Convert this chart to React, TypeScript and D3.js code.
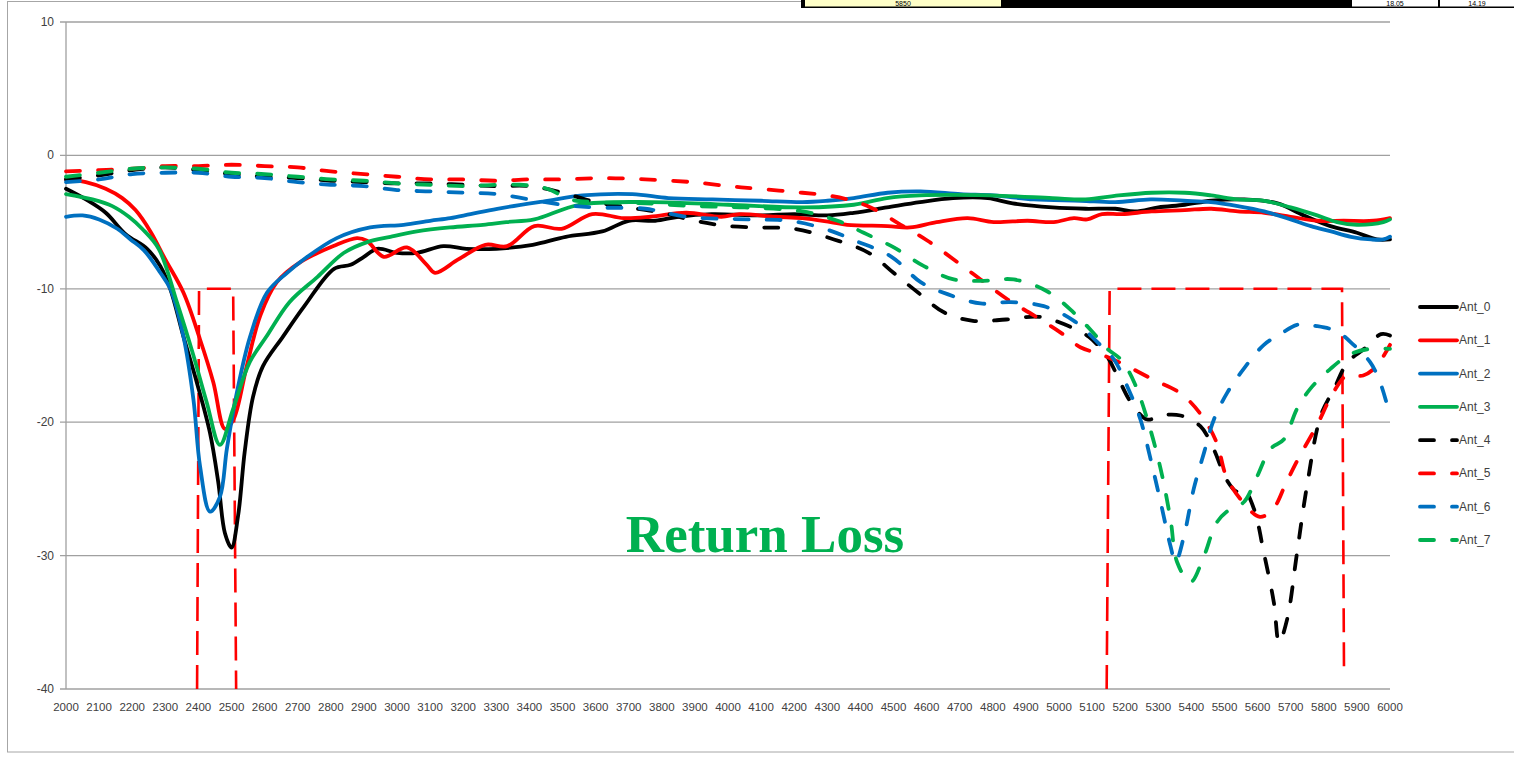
import React from 'react';
import * as d3 from 'd3';

// frequency (MHz) / return loss (dB) pairs
const ant0 = [[2000,-2.5],[2060,-3.3],[2120,-4.3],[2180,-5.9],[2245,-7.0],[2285,-8.3],[2315,-10.0],[2355,-13.6],[2395,-17.0],[2435,-20.8],[2460,-24.5],[2480,-28.3],[2500,-29.4],[2520,-27.0],[2540,-22.2],[2565,-18.1],[2595,-15.8],[2655,-13.6],[2720,-11.3],[2810,-8.5],[2860,-8.2],[2900,-7.6],[2940,-7.0],[3000,-7.3],[3060,-7.3],[3140,-6.8],[3210,-7.0],[3300,-7.0],[3410,-6.7],[3510,-6.1],[3620,-5.7],[3700,-4.9],[3780,-4.9],[3850,-4.6],[3950,-4.4],[4100,-4.5],[4200,-4.4],[4300,-4.5],[4380,-4.3],[4480,-3.9],[4580,-3.5],[4680,-3.2],[4785,-3.2],[4860,-3.6],[4980,-3.9],[5080,-4.0],[5170,-4.0],[5230,-4.2],[5300,-3.9],[5380,-3.7],[5460,-3.4],[5560,-3.3],[5660,-3.6],[5740,-4.5],[5820,-5.3],[5900,-5.8],[5960,-6.3],[6000,-6.3]];
const ant1 = [[2000,-1.8],[2060,-2.0],[2120,-2.5],[2170,-3.2],[2210,-4.1],[2255,-5.7],[2300,-7.8],[2355,-10.3],[2405,-13.8],[2445,-17.0],[2480,-20.5],[2506,-19.8],[2546,-15.8],[2587,-12.0],[2637,-9.5],[2708,-8.0],[2808,-6.8],[2879,-6.2],[2909,-6.4],[2960,-7.6],[3030,-6.9],[3090,-8.2],[3115,-8.8],[3185,-7.8],[3267,-6.7],[3333,-6.8],[3415,-5.3],[3497,-5.5],[3590,-4.4],[3685,-4.7],[3766,-4.6],[3874,-4.3],[3980,-4.6],[4035,-4.4],[4143,-4.6],[4225,-4.7],[4310,-5.0],[4360,-5.2],[4482,-5.3],[4550,-5.4],[4630,-5.0],[4724,-4.7],[4803,-5.0],[4905,-4.9],[4984,-5.0],[5045,-4.7],[5085,-4.8],[5130,-4.4],[5190,-4.4],[5280,-4.2],[5380,-4.1],[5460,-4.0],[5540,-4.2],[5620,-4.3],[5700,-4.6],[5780,-4.9],[5860,-4.9],[5950,-4.9],[6000,-4.7]];
const ant2 = [[2000,-4.6],[2050,-4.5],[2100,-4.8],[2155,-5.5],[2195,-6.3],[2235,-7.1],[2285,-8.8],[2315,-10.0],[2355,-13.6],[2385,-18.3],[2405,-23.3],[2435,-26.7],[2465,-25.6],[2486,-22.0],[2516,-17.8],[2556,-13.6],[2607,-10.3],[2668,-8.8],[2718,-7.8],[2818,-6.2],[2919,-5.4],[3020,-5.2],[3100,-4.9],[3161,-4.7],[3222,-4.4],[3303,-4.0],[3454,-3.4],[3560,-3.0],[3711,-2.9],[3820,-3.2],[3953,-3.3],[4100,-3.4],[4225,-3.5],[4300,-3.4],[4380,-3.2],[4482,-2.8],[4582,-2.7],[4703,-2.9],[4803,-3.0],[4924,-3.3],[5066,-3.4],[5170,-3.5],[5277,-3.3],[5377,-3.4],[5459,-3.5],[5540,-3.8],[5620,-4.2],[5700,-4.8],[5761,-5.3],[5822,-5.7],[5882,-6.1],[5943,-6.3],[5980,-6.3],[6000,-6.1]];
const ant3 = [[2000,-2.9],[2080,-3.3],[2140,-3.8],[2190,-4.6],[2230,-5.5],[2280,-7.0],[2335,-11.0],[2385,-15.0],[2425,-18.5],[2465,-21.7],[2505,-19.0],[2555,-15.5],[2605,-13.6],[2675,-11.0],[2760,-9.1],[2840,-7.3],[2910,-6.5],[2980,-6.1],[3060,-5.7],[3160,-5.4],[3260,-5.2],[3330,-5.0],[3415,-4.8],[3550,-3.7],[3770,-3.5],[4000,-3.7],[4230,-3.9],[4380,-3.7],[4480,-3.2],[4580,-3.0],[4790,-3.0],[4980,-3.2],[5080,-3.3],[5180,-3.0],[5280,-2.8],[5380,-2.8],[5460,-3.0],[5540,-3.3],[5620,-3.4],[5700,-3.9],[5780,-4.5],[5840,-5.0],[5900,-5.2],[5980,-5.0],[6000,-4.8]];
const ant4 = [[2000,-1.8],[2100,-1.5],[2200,-1.1],[2300,-0.9],[2400,-1.1],[2500,-1.4],[2600,-1.6],[2700,-1.7],[2800,-1.9],[2900,-2.0],[3000,-2.1],[3100,-2.1],[3200,-2.2],[3300,-2.3],[3400,-2.3],[3500,-2.8],[3600,-3.5],[3700,-3.9],[3800,-4.3],[3900,-4.9],[4000,-5.3],[4100,-5.4],[4200,-5.5],[4320,-6.3],[4425,-7.3],[4500,-8.8],[4575,-10.3],[4655,-11.8],[4740,-12.4],[4840,-12.3],[4940,-12.1],[5020,-12.7],[5090,-13.6],[5146,-15.1],[5170,-16.2],[5217,-18.5],[5267,-19.8],[5307,-19.5],[5367,-19.5],[5427,-20.3],[5467,-22.0],[5506,-24.3],[5537,-25.2],[5557,-25.0],[5589,-26.5],[5619,-29.8],[5649,-33.5],[5665,-36.5],[5689,-34.8],[5719,-29.8],[5749,-24.8],[5791,-19.5],[5831,-17.5],[5872,-15.5],[5922,-14.5],[5973,-13.4],[6000,-13.5]];
const ant5 = [[2000,-1.2],[2100,-1.1],[2200,-1.0],[2300,-0.8],[2400,-0.8],[2500,-0.7],[2600,-0.8],[2700,-0.9],[2800,-1.2],[2900,-1.4],[3000,-1.6],[3100,-1.8],[3200,-1.8],[3300,-1.9],[3400,-1.8],[3500,-1.8],[3620,-1.7],[3750,-1.8],[3890,-2.0],[4000,-2.3],[4090,-2.5],[4225,-2.8],[4300,-3.0],[4360,-3.3],[4431,-3.9],[4522,-5.2],[4603,-6.4],[4682,-7.8],[4763,-9.3],[4845,-10.8],[4924,-12.0],[5006,-13.3],[5066,-14.4],[5126,-14.9],[5206,-15.8],[5284,-16.8],[5365,-17.8],[5425,-19.3],[5476,-21.5],[5506,-24.1],[5556,-26.0],[5607,-27.1],[5647,-26.5],[5687,-24.5],[5728,-22.5],[5778,-20.3],[5828,-17.8],[5869,-16.5],[5919,-16.5],[5959,-15.8],[6000,-14.2]];
const ant6 = [[2000,-2.0],[2100,-1.8],[2200,-1.4],[2300,-1.3],[2400,-1.3],[2500,-1.6],[2600,-1.7],[2700,-2.0],[2800,-2.2],[2900,-2.3],[3000,-2.6],[3100,-2.7],[3200,-2.8],[3300,-2.9],[3400,-3.3],[3500,-3.7],[3600,-3.9],[3750,-4.0],[3874,-4.6],[4064,-4.8],[4185,-4.9],[4292,-5.5],[4385,-6.4],[4494,-7.6],[4582,-9.5],[4663,-10.4],[4763,-11.1],[4854,-11.0],[4954,-11.3],[5045,-12.4],[5116,-14.0],[5166,-15.3],[5206,-17.3],[5246,-19.8],[5277,-22.8],[5307,-26.0],[5337,-29.3],[5352,-30.5],[5377,-28.6],[5407,-25.0],[5438,-22.3],[5468,-19.8],[5508,-17.8],[5558,-16.0],[5619,-14.2],[5669,-13.4],[5719,-12.7],[5779,-12.8],[5840,-13.2],[5890,-14.2],[5940,-15.5],[5970,-17.0],[6000,-19.5]];
const ant7 = [[2000,-1.6],[2100,-1.3],[2200,-1.0],[2300,-0.9],[2400,-1.0],[2500,-1.3],[2600,-1.4],[2700,-1.6],[2800,-1.8],[2900,-1.9],[3000,-2.1],[3100,-2.2],[3200,-2.3],[3370,-2.2],[3454,-2.5],[3523,-3.3],[3600,-3.5],[3750,-3.6],[3900,-3.8],[4050,-3.9],[4225,-4.2],[4331,-4.9],[4410,-5.8],[4501,-6.9],[4592,-8.3],[4682,-9.3],[4773,-9.4],[4863,-9.3],[4965,-10.2],[5045,-11.8],[5100,-13.2],[5146,-14.5],[5187,-15.3],[5227,-17.0],[5267,-19.8],[5307,-23.5],[5337,-27.3],[5357,-30.5],[5397,-32.0],[5437,-30.1],[5477,-27.5],[5518,-26.5],[5558,-26.0],[5598,-24.1],[5639,-22.0],[5679,-21.3],[5719,-19.0],[5759,-17.5],[5820,-16.0],[5880,-14.9],[5940,-14.5],[6000,-14.5]];

const names = ['Ant_0', 'Ant_1', 'Ant_2', 'Ant_3', 'Ant_4', 'Ant_5', 'Ant_6', 'Ant_7'];
const colors = ['#000000', '#FF0000', '#0070C0', '#00B050', '#000000', '#FF0000', '#0070C0', '#00B050'];
const seriesData = [ant0, ant1, ant2, ant3, ant4, ant5, ant6, ant7];

const xTicks = d3.range(2000, 6001, 100);
const yTicks = [10, 0, -10, -20, -30, -40];

// the two red band markers (2.4G and 5G)
const band24 = [[2396, -40], [2402, -10], [2505, -10], [2514, -40]];
const band5 = [[5144, -40], [5153, -10], [5855, -10], [5861, -38.6]];

// table cells peeking in at the top of the sheet
const tableTexts = ['5850', '18.05', '14.19'];

const font = '"Liberation Sans", Arial, sans-serif';

export default function App() {
  const x = d3.scaleLinear().domain([2000, 6000]).range([66, 1390]);
  const y = d3.scaleLinear().domain([-40, 10]).range([689, 22]);

  const line = d3.line<number[]>()
    .x(d => x(d[0]))
    .y(d => y(d[1]))
    .curve(d3.curveCatmullRom.alpha(0.5));
  const straight = d3.line<number[]>().x(d => x(d[0])).y(d => y(d[1]));

  const legendX = 1420;
  const legendY = d3.scaleLinear().domain([0, 7]).range([307, 540]);

  return (
    <svg width={1514} height={757} style={{ position: 'absolute', left: 0, top: 0, display: 'block', background: '#fff' }}>
      <rect x={7.5} y={1.5} width={1530} height={750.5} fill="#fff" stroke="#a6a6a6" strokeWidth={1} />

      {/* top table remnant */}
      <rect x={801} y={-2} width={720} height={10} fill="#000" />
      <rect x={805} y={-2} width={196} height={8.5} fill="#FFFFC8" />
      <rect x={1352} y={-2} width={86} height={8.5} fill="#fff" />
      <rect x={1440} y={-2} width={80} height={8.5} fill="#fff" />
      <text x={903} y={6} textAnchor="middle" fontFamily={font} fontSize={7} fill="#000">{tableTexts[0]}</text>
      <text x={1395} y={6} textAnchor="middle" fontFamily={font} fontSize={7} fill="#000">{tableTexts[1]}</text>
      <text x={1477} y={6} textAnchor="middle" fontFamily={font} fontSize={7} fill="#000">{tableTexts[2]}</text>

      {/* gridlines */}
      {yTicks.map(t => (
        <g key={t}>
          <line x1={x(2000) - 6} x2={x(6000)} y1={y(t)} y2={y(t)} stroke="#a0a0a0" strokeWidth={1.3} />
          <text x={54} y={y(t) + 4} textAnchor="end" fontFamily={font} fontSize={12} fill="#404040">{t}</text>
        </g>
      ))}
      <line x1={x(2000)} x2={x(2000)} y1={y(10)} y2={y(-40)} stroke="#a0a0a0" strokeWidth={1.3} />

      {xTicks.map(t => (
        <text key={t} x={x(t)} y={711} textAnchor="middle" fontFamily={font} fontSize={11.5} fill="#404040">{t}</text>
      ))}

      {/* band markers */}
      <path d={straight(band24) || ''} fill="none" stroke="#FF0000" strokeWidth={2.6} strokeDasharray="24 10" />
      <path d={straight(band5) || ''} fill="none" stroke="#FF0000" strokeWidth={2.6} strokeDasharray="24 10" />

      {/* series */}
      {seriesData.map((s, i) => (
        <path key={names[i]} d={line(s) || ''} fill="none" stroke={colors[i]} strokeWidth={3.8}
          strokeLinecap="round" strokeLinejoin="round"
          strokeDasharray={i >= 4 ? '14 18' : undefined} />
      ))}

      <text x={765} y={552} textAnchor="middle" fontFamily='"Liberation Serif", "Times New Roman", serif'
        fontWeight="bold" fontSize={53} fill="#00B050">Return Loss</text>

      {/* legend */}
      {names.map((n, i) => (
        <g key={n}>
          <line x1={legendX} x2={legendX + 37} y1={legendY(i)} y2={legendY(i)} stroke={colors[i]} strokeWidth={3.8}
            strokeLinecap="round" strokeDasharray={i >= 4 ? '14 18' : undefined} />
          <text x={legendX + 39} y={legendY(i) + 4} fontFamily={font} fontSize={12} fill="#404040">{n}</text>
        </g>
      ))}
    </svg>
  );
}
